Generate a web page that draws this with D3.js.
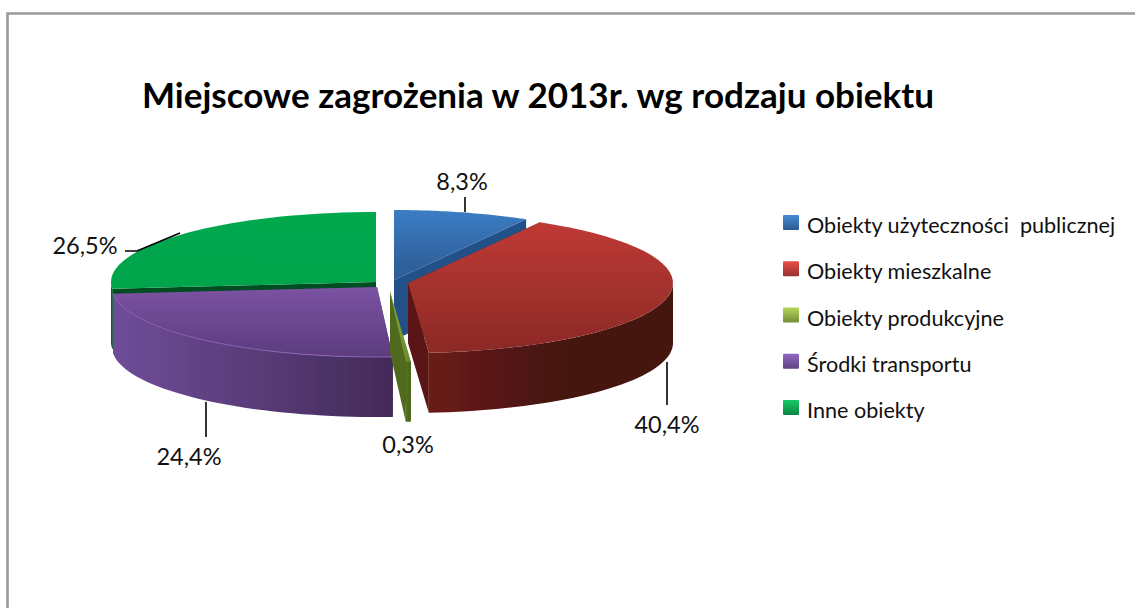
<!DOCTYPE html>
<html><head><meta charset="utf-8">
<script src="https://cdn.jsdelivr.net/npm/d3@7"></script>
<style>html,body{margin:0;padding:0;background:#fff}svg{display:block}text{font-family:Lato,sans-serif;fill:#111;white-space:pre}</style>
</head><body><svg id="c" width="1135" height="608"></svg>
<script>
const chartTitle = "Miejscowe zagrożenia w 2013r. wg rodzaju obiektu";
const categories = ["Obiekty użyteczności  publicznej","Obiekty mieszkalne","Obiekty produkcyjne","Środki transportu","Inne obiekty"];
const shareValues = [8.3,40.4,0.3,24.4,26.5];
const valueLabels = ["8,3%","40,4%","0,3%","24,4%","26,5%"];

const sliceShift = [[3,-3],[17,0],[-1,9],[-14,4],[-15,-1]];
const topColors = [["#3b7cc4","#2c5a91"],["#bf3a35","#8b2926"],["#8fae45","#6a8a2c"],["#7b53a2","#5c3c7e"],["#00a84e","#00a44b"]];
const wallColors = [["#24508a","#24508a"],["#6a1c18","#451210"],["#55701f","#4a6419"],["#6f4d99","#432a58"],["#00602b","#00602b"]];
const innerColors = ["#23518a","#5a1712","#4f6a1c","#4a2f66","#004d22"];
const legendColors = ["#3a74b4","#c0403c","#95b34a","#7a55a4","#12a855"];
const labelPos = [[462,190],[667,433],[408,453],[189,465],[85,254]];
const leaders = [[[465,197],[465,212]],[[667,362],[667,405]],[[206,402],[206,437]],[[125,251],[137,251],[180,233]]];

const svg = d3.select("#c");
const defs = svg.append("defs");
defs.append("filter").attr("id","soft").attr("x","-5%").attr("y","-5%").attr("width","110%").attr("height","110%")
  .append("feGaussianBlur").attr("stdDeviation",0.6);

svg.append("path").attr("d","M7.5,608V13.5H1135").attr("fill","none").attr("stroke","#9a9a9a").attr("stroke-width",2.6);

svg.append("text").attr("x",142).attr("y",108).attr("font-size",34.5).attr("font-weight",700)
  .attr("textLength",792).attr("lengthAdjust","spacingAndGlyphs").style("fill","#000").text(chartTitle);

const cx=391, cy=283, rx=265, ry=70, depth=60;
const angle = d3.scaleLinear().domain([0,d3.sum(shareValues)]).range([0,2*Math.PI]);
const pieGen = d3.pie().value(d=>d).sort(null).startAngle(angle(0)).endAngle(angle(d3.sum(shareValues)));
const arcs = pieGen(shareValues).map((a,i)=>({...a,i,ox:cx+sliceShift[i][0],oy:cy+sliceShift[i][1]}));
const pt=(a,t,dy=0)=>[a.ox+rx*Math.sin(t),a.oy-ry*Math.cos(t)+dy];
const arcPts=(a,t0,t1,dy)=>d3.range(0,41).map(k=>pt(a,t0+(t1-t0)*k/40,dy));
const line=d3.line();

arcs.forEach(a=>{
  const g1=defs.append("linearGradient").attr("id","t"+a.i).attr("x1",0).attr("y1",0).attr("x2",0).attr("y2",1);
  g1.append("stop").attr("offset",0).attr("stop-color",topColors[a.i][0]);
  g1.append("stop").attr("offset",1).attr("stop-color",topColors[a.i][1]);
  const g2=defs.append("linearGradient").attr("id","w"+a.i).attr("x1",0).attr("y1",0).attr("x2",1).attr("y2",0);
  g2.append("stop").attr("offset",0).attr("stop-color",wallColors[a.i][0]);
  g2.append("stop").attr("offset",a.i==1?0.55:1).attr("stop-color",wallColors[a.i][1]);
});

const pie=svg.append("g").attr("filter","url(#soft)");
function drawSlice(a){
  const g=pie.append("g");
  const apex=[a.ox,a.oy];
  const e0=pt(a,a.startAngle), e1=pt(a,a.endAngle);
  [e0,e1].forEach(e=>{
    g.append("path").attr("d",line([apex,e,[e[0],e[1]+depth],[apex[0],apex[1]+depth]])+"Z").attr("fill",innerColors[a.i]);
  });
  const lo=Math.max(a.startAngle,Math.PI/2), hi=Math.min(a.endAngle,3*Math.PI/2);
  if(hi>lo){
    const top=arcPts(a,lo,hi,0), bot=arcPts(a,lo,hi,depth).reverse();
    g.append("path").attr("d",line(top.concat(bot))+"Z").attr("fill","url(#w"+a.i+")");
  }
  g.append("path").attr("d",line([apex].concat(arcPts(a,a.startAngle,a.endAngle,0)))+"Z").attr("fill","url(#t"+a.i+")");
}
[4,0,3,2,1].forEach(i=>drawSlice(arcs[i]));
pie.append("path").attr("d",line(arcPts(arcs[3],arcs[3].startAngle,arcs[3].endAngle,0)))
  .attr("fill","none").attr("stroke","#8a63b4").attr("stroke-width",1);

svg.append("g").selectAll("path").data(leaders).join("path").attr("d",d=>line(d))
  .attr("fill","none").attr("stroke","#000").attr("stroke-width",1.6);

svg.append("g").selectAll("text").data(valueLabels).join("text")
  .attr("x",(d,i)=>labelPos[i][0]).attr("y",(d,i)=>labelPos[i][1]).attr("text-anchor","middle")
  .attr("font-size",23.5).text(d=>d);

const legendY=d3.scalePoint().domain(categories).range([227,412]);
const lg=svg.append("g").selectAll("g").data(categories).join("g")
  .attr("transform",d=>`translate(0,${legendY(d)})`);
lg.each(function(d,i){
  const g=defs.append("linearGradient").attr("id","l"+i).attr("x1",0).attr("y1",0).attr("x2",0).attr("y2",1);
  const c=d3.color(legendColors[i]);
  g.append("stop").attr("offset",0).attr("stop-color",c.brighter(0.5));
  g.append("stop").attr("offset",0.5).attr("stop-color",c);
  g.append("stop").attr("offset",1).attr("stop-color",c.darker(0.7));
});
lg.append("rect").attr("x",783).attr("y",-12).attr("width",16).attr("height",15).attr("rx",1)
  .attr("fill",(d,i)=>"url(#l"+i+")").attr("filter","url(#soft)");
lg.append("text").attr("x",807).attr("y",6).attr("font-size",21.6).text(d=>d);
</script></body></html>
